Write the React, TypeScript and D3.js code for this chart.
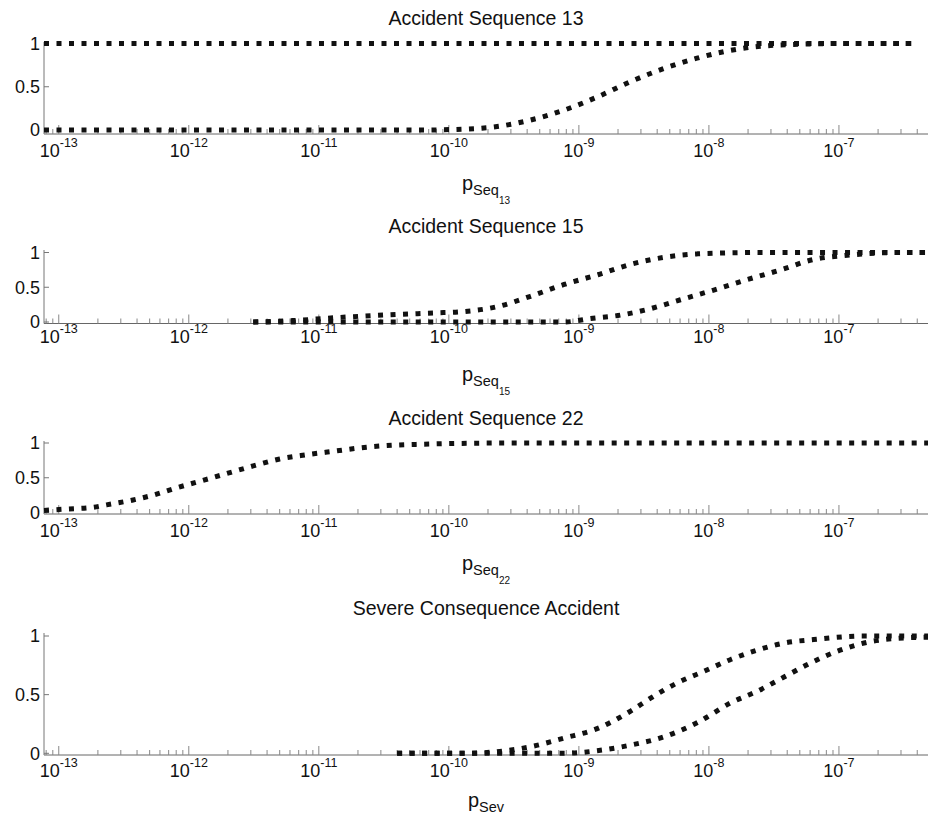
import React, { useEffect, useRef } from "react";
import * as d3 from "d3";

const W = 928;
const H = 822;
const FONT = "'Liberation Sans', Arial, sans-serif";

// x range shared by every subplot (probability, log scale)
const xDomain = [7.7e-14, 4.84e-7];
const yTicks = [0, 0.5, 1];

// Accident Sequence 13
const seq13UpperP = [7.7e-14, 3.6e-7];
const seq13UpperY = [1, 1];
const seq13LowerP = [7.7e-14, 1e-13, 1e-12, 1e-11, 6e-11, 1.3e-10, 2.35e-10, 4.25e-10, 7.7e-10, 1.4e-9, 2.5e-9, 4.5e-9, 8.1e-9, 1.3e-8, 2.2e-8, 4.8e-8, 1e-7, 3.6e-7];
const seq13LowerY = [0, 0, 0, 0, 0, 0.01, 0.04, 0.115, 0.23, 0.385, 0.56, 0.71, 0.83, 0.905, 0.96, 0.99, 1, 1];

// Accident Sequence 15
const seq15UpperP = [3.13e-12, 6.3e-12, 1.29e-11, 3.16e-11, 7.6e-11, 1.3e-10, 2.35e-10, 4.25e-10, 7.7e-10, 1.4e-9, 2.5e-9, 4.5e-9, 8.1e-9, 2.65e-8, 4.84e-7];
const seq15UpperY = [0, 0.02, 0.06, 0.1, 0.13, 0.15, 0.22, 0.37, 0.54, 0.68, 0.83, 0.93, 0.98, 1, 1];
const seq15LowerP = [3.13e-12, 1e-10, 7.7e-10, 1.23e-9, 2.1e-9, 3.36e-9, 6.05e-9, 1.09e-8, 1.97e-8, 3.56e-8, 6.4e-8, 1.16e-7, 2.8e-7, 4.84e-7];
const seq15LowerY = [0, 0, 0, 0.05, 0.1, 0.18, 0.32, 0.46, 0.61, 0.75, 0.9, 0.96, 1, 1];

// Accident Sequence 22
const seq22P = [7.7e-14, 1.15e-13, 1.84e-13, 2.33e-13, 3.73e-13, 5.32e-13, 7.57e-13, 1.22e-12, 1.95e-12, 3.13e-12, 5.0e-12, 8.0e-12, 1.29e-11, 2.33e-11, 5.6e-11, 3.2e-10, 4.84e-7];
const seq22Y = [0.03, 0.05, 0.075, 0.11, 0.18, 0.25, 0.34, 0.45, 0.56, 0.67, 0.77, 0.83, 0.88, 0.94, 0.98, 1, 1];

// Severe Consequence Accident
const sevUpperP = [4e-11, 1.3e-10, 2.35e-10, 4.25e-10, 7.7e-10, 1.38e-9, 2.5e-9, 3.56e-9, 5.7e-9, 9.2e-9, 1.47e-8, 2.36e-8, 3.78e-8, 6.4e-8, 1.56e-7, 4.84e-7];
const sevUpperY = [0, 0, 0.014, 0.056, 0.13, 0.21, 0.36, 0.47, 0.6, 0.7, 0.8, 0.88, 0.94, 0.97, 1, 1];
const sevLowerP = [4e-11, 7.7e-10, 1.38e-9, 2.5e-9, 4.5e-9, 8.1e-9, 1.47e-8, 2.36e-8, 3.78e-8, 6.05e-8, 9.7e-8, 1.56e-7, 2.8e-7, 4.84e-7];
const sevLowerY = [0, 0, 0.022, 0.07, 0.14, 0.26, 0.43, 0.53, 0.65, 0.77, 0.87, 0.94, 0.98, 0.99];

const panels = [
  { title: "Accident Sequence 13", sub: "Seq", subsub: "13", series: [[seq13UpperP, seq13UpperY], [seq13LowerP, seq13LowerY]] },
  { title: "Accident Sequence 15", sub: "Seq", subsub: "15", series: [[seq15UpperP, seq15UpperY], [seq15LowerP, seq15LowerY]] },
  { title: "Accident Sequence 22", sub: "Seq", subsub: "22", series: [[seq22P, seq22Y]] },
  { title: "Severe Consequence Accident", sub: "Sev", subsub: "", series: [[sevUpperP, sevUpperY], [sevLowerP, sevLowerY]] },
];

// pixel layout of the four stacked axes
const layout = [
  { top: 42, y1: 43.5, y0: 130, axisY: 134, tickBase: 157, titleBase: 25, labelBase: 190 },
  { top: 250, y1: 252.5, y0: 322, axisY: 323.5, tickBase: 343, titleBase: 233, labelBase: 381 },
  { top: 441, y1: 443, y0: 512.5, axisY: 514, tickBase: 537, titleBase: 425, labelBase: 570 },
  { top: 633, y1: 636, y0: 753.3, axisY: 755, tickBase: 777, titleBase: 615, labelBase: 807 },
];

const left = 44;
const right = 928;

export default function App() {
  const ref = useRef<SVGSVGElement>(null);

  useEffect(() => {
    const svg = d3.select(ref.current);
    svg.selectAll("*").remove();

    const x = d3.scaleLog().domain(xDomain).range([left, right]);
    const ticks = x.ticks();
    const cx = (left + right) / 2;

    panels.forEach((panel, i) => {
      const L = layout[i];
      const y = d3.scaleLinear().domain([0, 1]).range([L.y0, L.y1]);
      const g = svg.append("g");

      // axis lines (box off, like matlab)
      g.append("line").attr("x1", left).attr("x2", right).attr("y1", L.axisY).attr("y2", L.axisY)
        .attr("stroke", "#666").attr("stroke-width", 1);
      g.append("line").attr("x1", left).attr("x2", left).attr("y1", L.top).attr("y2", L.axisY)
        .attr("stroke", "#777").attr("stroke-width", 1);

      // x ticks, major and minor, pointing inward
      g.selectAll(".xtick").data(ticks).join("line").attr("class", "xtick")
        .attr("x1", d => x(d)).attr("x2", d => x(d))
        .attr("y1", L.axisY)
        .attr("y2", d => {
          const m = Math.round(d / Math.pow(10, Math.floor(Math.log10(d) + 1e-9)));
          return L.axisY - (m === 1 ? 9 : 5);
        })
        .attr("stroke", "#888").attr("stroke-width", 1);

      const majors = ticks.filter(d => Math.abs(Math.log10(d) - Math.round(Math.log10(d))) < 1e-6);
      const labels = g.selectAll(".xlab").data(majors).join("text").attr("class", "xlab")
        .attr("x", d => x(d)).attr("y", L.tickBase)
        .attr("text-anchor", "middle")
        .style("font-family", FONT).style("font-size", "18px").attr("fill", "#111");
      labels.append("tspan").text("10");
      labels.append("tspan").attr("dy", -10).style("font-size", "12.5px")
        .text(d => String(Math.round(Math.log10(d))));

      // y ticks
      g.selectAll(".ytick").data(yTicks).join("line").attr("class", "ytick")
        .attr("x1", left).attr("x2", left + 5)
        .attr("y1", d => y(d)).attr("y2", d => y(d))
        .attr("stroke", "#777").attr("stroke-width", 1);
      g.selectAll(".ylab").data(yTicks).join("text").attr("class", "ylab")
        .attr("x", left - 4).attr("y", d => y(d)).attr("dy", "0.36em")
        .attr("text-anchor", "end")
        .style("font-family", FONT).style("font-size", "18px").attr("fill", "#111")
        .text(d => String(d));

      // curves drawn as thick dotted lines
      const line = d3.line<[number, number]>()
        .x(d => x(d[0])).y(d => y(d[1]))
        .curve(d3.curveMonotoneX);
      panel.series.forEach(([ps, vs]) => {
        const pts = ps.map((p, k) => [p, vs[k]] as [number, number]);
        g.append("path").attr("d", line(pts))
          .attr("fill", "none").attr("stroke", "#111")
          .attr("stroke-width", 5).attr("stroke-dasharray", "5 7.5");
      });

      // title
      g.append("text").attr("x", cx).attr("y", L.titleBase)
        .attr("text-anchor", "middle")
        .style("font-family", FONT).style("font-size", "19.5px").attr("fill", "#111")
        .text(panel.title);

      // x label p_{Seq_{13}}
      const xl = g.append("text").attr("x", cx).attr("y", L.labelBase)
        .attr("text-anchor", "middle")
        .style("font-family", FONT).attr("fill", "#111");
      xl.append("tspan").style("font-size", "20px").text("p");
      xl.append("tspan").attr("dy", 5).style("font-size", "14.5px").text(panel.sub);
      if (panel.subsub) {
        xl.append("tspan").attr("dy", 9).style("font-size", "10px").text(panel.subsub);
      }
    });
  }, []);

  return (
    <svg ref={ref} width={W} height={H}
      style={{ position: "absolute", left: 0, top: 0, background: "#fff" }} />
  );
}
